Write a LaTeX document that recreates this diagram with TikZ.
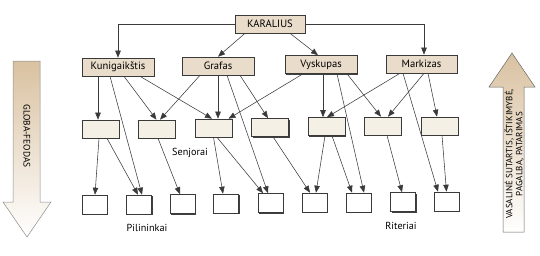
\documentclass[tikz,border=0pt]{standalone}
\usepackage{fontspec}
\setmainfont{PT Sans}
\usetikzlibrary{shadows,arrows.meta}
\definecolor{tanbox}{HTML}{E9DCCA}
\definecolor{creambox}{HTML}{F4F0E6}
\definecolor{linegray}{HTML}{3A3A3A}
\definecolor{arrowtan}{HTML}{D9C1A0}
\tikzset{
  boxbase/.style={draw=linegray, line width=0.6pt, inner sep=0pt,
    drop shadow={shadow xshift=1.3pt, shadow yshift=-1.3pt, fill=black!75, opacity=1}},
  lordbox/.style={boxbase, fill=tanbox, minimum width=72pt, minimum height=18pt, font=\fontsize{10.6}{12}\selectfont},
  senbox/.style={boxbase, fill=creambox, minimum width=37pt, minimum height=18pt},
  knbox/.style={boxbase, fill=white, minimum width=25pt, minimum height=19pt},
  conn/.style={draw=linegray, line width=0.55pt, -{Triangle[length=7pt,width=5.5pt]}},
  lbl/.style={font=\fontsize{10.2}{12}\selectfont, inner sep=0pt}
}
\begin{document}
\begin{tikzpicture}[x=1pt,y=-1pt]
\useasboundingbox (0,0) rectangle (540,255);
% big arrows
\path[draw=black!45, line width=0.5pt, shading=axis, top color=arrowtan, bottom color=white]
  (13,61) -- (40,61) -- (40,202) -- (51,202) -- (27,237) -- (3,202) -- (13,202) -- cycle;
\node[rotate=-90, font=\fontsize{9.4}{11}\selectfont, inner sep=0pt] (gf) at (27,136) {GLOBA-FEODAS};
\path[draw=black!60, line width=0.5pt, shading=axis, top color=arrowtan, bottom color=white]
  (503,232) -- (503,87) -- (489,87) -- (512,53) -- (535,87) -- (524,87) -- (524,232) -- cycle;
\node[rotate=90, font=\fontsize{9}{10}\selectfont, inner sep=0pt, align=center] (vs) at (514,154)
  {VASALINĖ SUTARTIS, IŠTIKIMYBĖ,\\PAGALBA, PATARIMAS};
% top
\node[lordbox, minimum width=70pt] (kar) at (270,24) {KARALIUS};
\node[lordbox] (k) at (118,67) {Kunigaikštis};
\node[lordbox] (g) at (218,66) {Grafas};
\node[lordbox] (v) at (321,64.5) {Vyskupas};
\node[lordbox, minimum width=71pt] (m) at (421.5,64) {Markizas};
% senjorai
\node[senbox] (s1) at (100.5,129) {};
\node[senbox] (s2) at (156.5,129) {};
\node[senbox] (s3) at (213.5,128) {};
\node[senbox] (s4) at (270,127.5) {};
\node[senbox] (s5) at (326.5,126.5) {};
\node[senbox] (s6) at (382.5,126) {};
\node[senbox] (s7) at (439.5,126) {};
% knights
\node[knbox] (p1) at (94.5,204.5) {};
\node[knbox] (p2) at (139,204.5) {};
\node[knbox] (p3) at (182.5,204) {};
\node[knbox] (p4) at (226,203.5) {};
\node[knbox] (p5) at (270.5,203) {};
\node[knbox] (p6) at (314.5,202.5) {};
\node[knbox] (p7) at (358.5,202.5) {};
\node[knbox] (p8) at (403,202) {};
\node[knbox] (p9) at (446.5,201.5) {};
% labels
\node[lbl] (lsen) at (190,153) {Senjorai};
\node[lbl] (lpil) at (147,228) {Pilininkai};
\node[lbl] (lrit) at (401,226) {Riteriai};
% king
\draw[conn] (kar.west) -| (k.north);
\draw[conn] ([xshift=-25pt]kar.south) -- (g.north);
\draw[conn] ([xshift=20pt]kar.south) -- ([xshift=-3pt]v.north);
\draw[conn] (kar.east) -| ([xshift=2.5pt]m.north);
% Kunigaikstis
\draw[conn] ([xshift=-20pt]k.south) -- ([xshift=-2.5pt]s1.north);
\draw[conn] ([xshift=-8pt]k.south) -- ([xshift=3pt]p2.north);
\draw[conn] ([xshift=6pt]k.south) -- (s2.north);
\draw[conn] ([xshift=22pt]k.south) -- ([xshift=-1.5pt]s3.north);
% Grafas
\draw[conn] ([xshift=-18pt]g.south) -- ([xshift=3.5pt]s2.north);
\draw[conn] (g.south) -- ([xshift=4.5pt]s3.north);
\draw[conn] ([xshift=9pt]g.south) -- ([xshift=-2.5pt]p5.north);
\draw[conn] ([xshift=22pt]g.south) -- ([xshift=-2pt]s4.north);
% Vyskupas
\draw[conn] ([xshift=-18pt]v.south) -- ([xshift=15pt]s3.north);
\draw[conn] ([xshift=2pt]v.south) -- ([xshift=-3.5pt]s5.north);
\draw[conn] ([xshift=16pt]v.south) -- ([xshift=5.5pt]p7.north);
\draw[conn] ([xshift=26pt]v.south) -- ([xshift=-1.5pt]s6.north);
% Markizas
\draw[conn] ([xshift=-21.5pt]m.south) -- ([xshift=0.5pt]s5.north);
\draw[conn] ([xshift=-18.5pt]m.south) -- ([xshift=-8.5pt]p9.north);
\draw[conn] ([xshift=2.5pt]m.south) -- ([xshift=5.5pt]s6.north);
\draw[conn] ([xshift=6.5pt]m.south) -- ([xshift=-2.5pt]s7.north);
% senjorai -> riteriai
\draw[conn] ([xshift=-1.5pt]s1.south) -- ([xshift=0.5pt]p1.north);
\draw[conn] ([xshift=6.5pt]s1.south) -- ([xshift=-1pt]p2.north);
\draw[conn] ([xshift=1.5pt]s2.south) -- ([xshift=-2.5pt]p3.north);
\draw[conn] (s3.south) -- ([xshift=-3pt]p4.north);
\draw[conn] ([xshift=3.5pt]s3.south) -- ([xshift=-7.5pt]p5.north);
\draw[conn] ([xshift=3pt]s4.south) -- ([xshift=-4.5pt]p6.north);
\draw[conn] ([xshift=-1.5pt]s5.south) -- ([xshift=1.5pt]p6.north);
\draw[conn] ([xshift=5.5pt]s5.south) -- ([xshift=-6.5pt]p7.north);
\draw[conn] ([xshift=4.5pt]s6.south) -- ([xshift=-1pt]p8.north);
\draw[conn] ([xshift=2.5pt]s7.south) -- (p9.north);
\end{tikzpicture}
\end{document}
